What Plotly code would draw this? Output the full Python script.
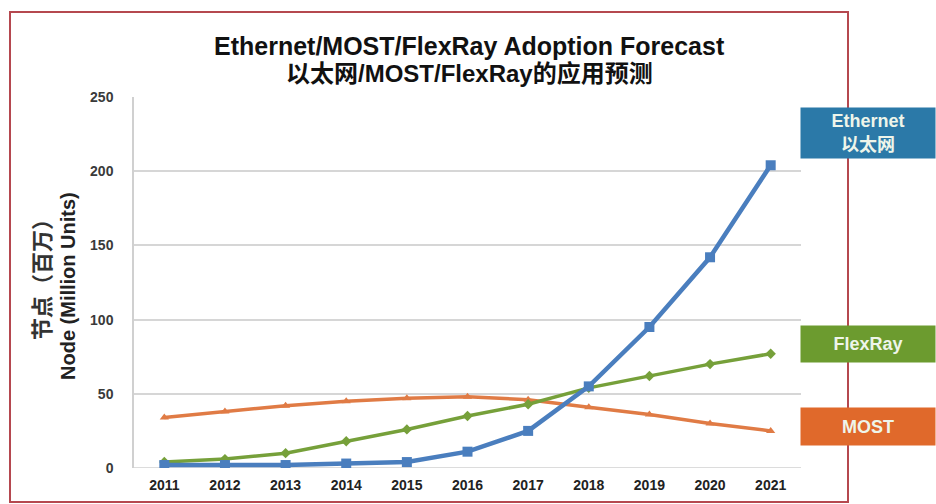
import plotly.graph_objects as go

years = [2011, 2012, 2013, 2014, 2015, 2016, 2017, 2018, 2019, 2020, 2021]
ethernet = [2, 2, 2, 3, 4, 11, 25, 55, 95, 142, 204]
flexray = [4, 6, 10, 18, 26, 35, 43, 54, 62, 70, 77]
most = [34, 38, 42, 45, 47, 48, 46, 41, 36, 30, 25]
y_ticks = [0, 50, 100, 150, 200, 250]

W, H = 936, 504
L, R, T, B = 134, 135, 97, 36
pw, ph = W - L - R, H - T - B

def px(x):
    return (x - L) / pw

def py(y):
    return (H - B - y) / ph

font_lat = "Liberation Sans, Arial, Noto Sans CJK SC"

fig = go.Figure()
fig.add_trace(go.Scatter(x=years, y=most, mode="lines+markers", name="MOST",
                         line=dict(color="#E07B45", width=3.5),
                         marker=dict(symbol="triangle-up", size=8, color="#E07B45")))
fig.add_trace(go.Scatter(x=years, y=flexray, mode="lines+markers", name="FlexRay",
                         line=dict(color="#76A03A", width=3.5),
                         marker=dict(symbol="diamond", size=8, color="#76A03A")))
fig.add_trace(go.Scatter(x=years, y=ethernet, mode="lines+markers", name="Ethernet",
                         line=dict(color="#4A7EBE", width=4.5),
                         marker=dict(symbol="square", size=10, color="#4A7EBE")))

fig.update_layout(
    width=W, height=H,
    margin=dict(l=L, r=R, t=T, b=B),
    paper_bgcolor="white", plot_bgcolor="white",
    showlegend=False,
    xaxis=dict(range=[2010.5, 2021.5], tickvals=years,
               ticktext=["<b>%d</b>" % y for y in years],
               showgrid=False, zeroline=False, showline=False, ticks="",
               tickfont=dict(family=font_lat, size=14, color="#222222"),
               ticklabelstandoff=7),
    yaxis=dict(range=[0, 250], tickvals=y_ticks,
               ticktext=["<b>%d</b>" % v for v in y_ticks],
               showgrid=True, gridcolor="#D6D6D6",
               gridwidth=1.5, zeroline=False, showline=True, linecolor="#D0D0D0",
               linewidth=1.5, ticks="",
               tickfont=dict(family=font_lat, size=14, color="#3A3A3A"),
               ticklabelstandoff=16),
)

# x baseline
fig.add_shape(type="line", xref="paper", yref="y", x0=0, x1=1, y0=0, y1=0,
              line=dict(color="#D0D0D0", width=1.5), layer="below")

# outer frame
fig.add_shape(type="rect", xref="paper", yref="paper",
              x0=px(10), x1=px(848), y0=py(502), y1=py(12),
              line=dict(color="#B5484F", width=2))

fig.add_annotation(xref="paper", yref="paper", x=px(469), y=py(46),
                   xanchor="center", yanchor="middle",
                   text="<b>Ethernet/MOST/FlexRay Adoption Forecast</b>", showarrow=False,
                   font=dict(family=font_lat, size=25, color="#111111"))
fig.add_annotation(xref="paper", yref="paper", x=px(469), y=py(74),
                   xanchor="center", yanchor="middle",
                   text="<b>以太网/MOST/FlexRay的应用预测</b>", showarrow=False,
                   font=dict(family=font_lat, size=24, color="#111111"))

fig.add_annotation(xref="paper", yref="paper", x=px(40), y=py(274),
                   xanchor="center", yanchor="middle",
                   text="<b>节点（百万）</b>", textangle=-90, showarrow=False,
                   font=dict(family="Noto Sans CJK SC", size=22, color="#333333"))
fig.add_annotation(xref="paper", yref="paper", x=px(68), y=py(286),
                   xanchor="center", yanchor="middle",
                   text="<b>Node (Million Units)</b>", textangle=-90, showarrow=False,
                   font=dict(family=font_lat, size=20, color="#222222"))

boxes = [("<b>Ethernet</b><br><b>以太网</b>", "#2B79A8", 133, 50),
         ("<b>FlexRay</b>", "#6C9B2F", 344, 36),
         ("<b>MOST</b>", "#E0692B", 426, 37)]
for txt, col, cy, hh in boxes:
    fig.add_annotation(xref="paper", yref="paper", x=px(868), y=py(cy),
                       xanchor="center", yanchor="middle",
                       text=txt, showarrow=False, width=134, height=hh,
                       bgcolor=col, borderpad=0, align="center", valign="middle",
                       font=dict(family=font_lat, size=18, color="#EEF5EA"))

fig.write_html("out.html")
